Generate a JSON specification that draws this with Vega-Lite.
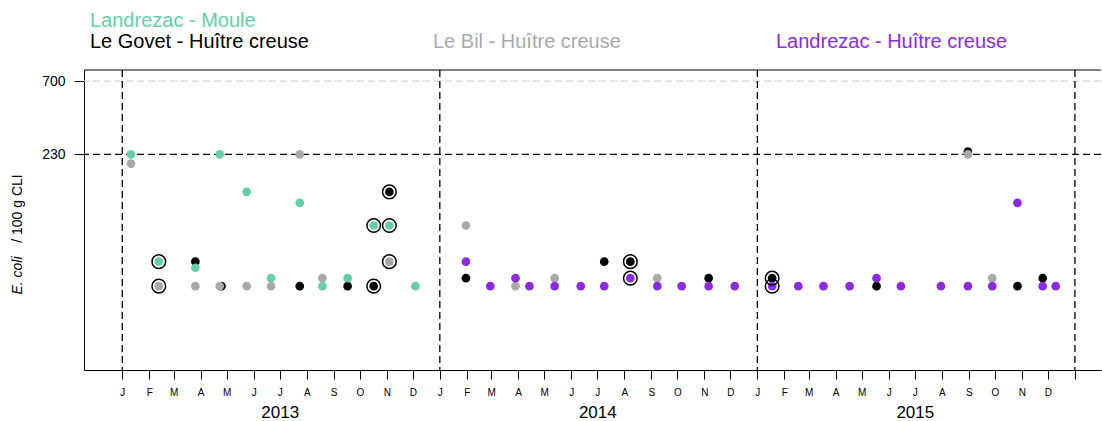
{
  "$schema": "https://vega.github.io/schema/vega-lite/v6.json",
  "autosize": {"type": "none"},
  "width": 1017,
  "height": 300,
  "padding": {"left": 84, "top": 70, "right": 1, "bottom": 51},
  "background": "white",
  "config": {
    "view": {"stroke": null},
    "font": "Liberation Sans",
    "axis": {"labelFont": "Liberation Sans", "titleFont": "Liberation Sans", "labelColor": "#000000", "titleColor": "#000000", "domainColor": "#000000", "tickColor": "#000000", "domainWidth": 1, "tickWidth": 1, "grid": false},
    "legend": {"labelFont": "Liberation Sans", "labelFontSize": 20, "labelLimit": 0, "padding": 0, "symbolSize": 0, "symbolOpacity": 0, "symbolStrokeWidth": 0, "labelOffset": 0, "orient": "none"}
  },
  "data": {
    "values": [
      {"date": "2013-01-11", "site": "Landrezac - Moule", "value": 230, "flag": 0},
      {"date": "2013-01-11", "site": "Le Bil - Huître creuse", "value": 200, "flag": 0},
      {"date": "2013-02-12", "site": "Landrezac - Moule", "value": 45, "flag": 1},
      {"date": "2013-02-12", "site": "Le Bil - Huître creuse", "value": 31, "flag": 1},
      {"date": "2013-03-26", "site": "Le Govet - Huître creuse", "value": 45, "flag": 0},
      {"date": "2013-03-26", "site": "Landrezac - Moule", "value": 41, "flag": 0},
      {"date": "2013-03-26", "site": "Le Bil - Huître creuse", "value": 31, "flag": 0},
      {"date": "2013-04-23", "site": "Landrezac - Moule", "value": 230, "flag": 0},
      {"date": "2013-04-25", "site": "Le Govet - Huître creuse", "value": 31, "flag": 0},
      {"date": "2013-04-23", "site": "Le Bil - Huître creuse", "value": 31, "flag": 0},
      {"date": "2013-05-24", "site": "Landrezac - Moule", "value": 130, "flag": 0},
      {"date": "2013-05-24", "site": "Le Bil - Huître creuse", "value": 31, "flag": 0},
      {"date": "2013-06-21", "site": "Landrezac - Moule", "value": 35, "flag": 0},
      {"date": "2013-06-21", "site": "Le Bil - Huître creuse", "value": 31, "flag": 0},
      {"date": "2013-07-24", "site": "Le Bil - Huître creuse", "value": 230, "flag": 0},
      {"date": "2013-07-24", "site": "Landrezac - Moule", "value": 110, "flag": 0},
      {"date": "2013-07-24", "site": "Le Govet - Huître creuse", "value": 31, "flag": 0},
      {"date": "2013-08-19", "site": "Le Bil - Huître creuse", "value": 35, "flag": 0},
      {"date": "2013-08-19", "site": "Landrezac - Moule", "value": 31, "flag": 0},
      {"date": "2013-09-17", "site": "Landrezac - Moule", "value": 35, "flag": 0},
      {"date": "2013-09-17", "site": "Le Govet - Huître creuse", "value": 31, "flag": 0},
      {"date": "2013-10-17", "site": "Landrezac - Moule", "value": 78, "flag": 1},
      {"date": "2013-10-17", "site": "Le Govet - Huître creuse", "value": 31, "flag": 1},
      {"date": "2013-11-04", "site": "Le Govet - Huître creuse", "value": 130, "flag": 1},
      {"date": "2013-11-04", "site": "Landrezac - Moule", "value": 78, "flag": 1},
      {"date": "2013-11-04", "site": "Le Bil - Huître creuse", "value": 45, "flag": 1},
      {"date": "2013-12-04", "site": "Landrezac - Moule", "value": 31, "flag": 0},
      {"date": "2014-01-31", "site": "Le Bil - Huître creuse", "value": 78, "flag": 0},
      {"date": "2014-01-31", "site": "Landrezac - Huître creuse", "value": 45, "flag": 0},
      {"date": "2014-01-31", "site": "Le Govet - Huître creuse", "value": 35, "flag": 0},
      {"date": "2014-02-28", "site": "Landrezac - Huître creuse", "value": 31, "flag": 0},
      {"date": "2014-03-29", "site": "Landrezac - Huître creuse", "value": 35, "flag": 0},
      {"date": "2014-03-29", "site": "Le Bil - Huître creuse", "value": 31, "flag": 0},
      {"date": "2014-04-14", "site": "Landrezac - Huître creuse", "value": 31, "flag": 0},
      {"date": "2014-05-13", "site": "Le Bil - Huître creuse", "value": 35, "flag": 0},
      {"date": "2014-05-13", "site": "Landrezac - Huître creuse", "value": 31, "flag": 0},
      {"date": "2014-06-12", "site": "Landrezac - Huître creuse", "value": 31, "flag": 0},
      {"date": "2014-07-09", "site": "Le Govet - Huître creuse", "value": 45, "flag": 0},
      {"date": "2014-07-09", "site": "Landrezac - Huître creuse", "value": 31, "flag": 0},
      {"date": "2014-08-08", "site": "Le Govet - Huître creuse", "value": 45, "flag": 1},
      {"date": "2014-08-08", "site": "Landrezac - Huître creuse", "value": 35, "flag": 1},
      {"date": "2014-09-08", "site": "Le Bil - Huître creuse", "value": 35, "flag": 0},
      {"date": "2014-09-08", "site": "Landrezac - Huître creuse", "value": 31, "flag": 0},
      {"date": "2014-10-06", "site": "Landrezac - Huître creuse", "value": 31, "flag": 0},
      {"date": "2014-11-06", "site": "Le Govet - Huître creuse", "value": 35, "flag": 0},
      {"date": "2014-11-06", "site": "Landrezac - Huître creuse", "value": 31, "flag": 0},
      {"date": "2014-12-06", "site": "Landrezac - Huître creuse", "value": 31, "flag": 0},
      {"date": "2015-01-18", "site": "Le Govet - Huître creuse", "value": 35, "flag": 1},
      {"date": "2015-01-18", "site": "Landrezac - Huître creuse", "value": 31, "flag": 1},
      {"date": "2015-02-17", "site": "Landrezac - Huître creuse", "value": 31, "flag": 0},
      {"date": "2015-03-18", "site": "Landrezac - Huître creuse", "value": 31, "flag": 0},
      {"date": "2015-04-17", "site": "Landrezac - Huître creuse", "value": 31, "flag": 0},
      {"date": "2015-05-18", "site": "Landrezac - Huître creuse", "value": 35, "flag": 0},
      {"date": "2015-05-18", "site": "Le Govet - Huître creuse", "value": 31, "flag": 0},
      {"date": "2015-06-15", "site": "Landrezac - Huître creuse", "value": 31, "flag": 0},
      {"date": "2015-07-31", "site": "Landrezac - Huître creuse", "value": 31, "flag": 0},
      {"date": "2015-08-31", "site": "Le Govet - Huître creuse", "value": 240, "flag": 0},
      {"date": "2015-08-31", "site": "Le Bil - Huître creuse", "value": 230, "flag": 0},
      {"date": "2015-08-31", "site": "Landrezac - Huître creuse", "value": 31, "flag": 0},
      {"date": "2015-09-28", "site": "Le Bil - Huître creuse", "value": 35, "flag": 0},
      {"date": "2015-09-28", "site": "Landrezac - Huître creuse", "value": 31, "flag": 0},
      {"date": "2015-10-27", "site": "Landrezac - Huître creuse", "value": 110, "flag": 0},
      {"date": "2015-10-27", "site": "Le Govet - Huître creuse", "value": 31, "flag": 0},
      {"date": "2015-11-25", "site": "Le Govet - Huître creuse", "value": 35, "flag": 0},
      {"date": "2015-11-25", "site": "Landrezac - Huître creuse", "value": 31, "flag": 0},
      {"date": "2015-12-10", "site": "Landrezac - Huître creuse", "value": 31, "flag": 0}
    ]
  },
  "layer": [
    {
      "data": {"values": [{}]},
      "mark": {"type": "rule", "color": "#d3d3d3", "strokeDash": [7, 4], "strokeWidth": 1.3},
      "encoding": {
        "y": {"datum": 700, "type": "quantitative", "scale": {"type": "log", "domain": [8.66, 830], "nice": false}, "axis": null}
      }
    },
    {
      "data": {"values": [{}]},
      "mark": {"type": "rule", "color": "#000000", "strokeDash": [7, 4], "strokeWidth": 1.3},
      "encoding": {
        "y": {
          "datum": 230, "type": "quantitative",
          "scale": {"type": "log", "domain": [8.66, 830], "nice": false},
          "axis": {"orient": "left", "values": [], "ticks": false, "labels": false, "domain": false, "title": "E. coli", "titleFontStyle": "italic", "titleFontSize": 14, "titleFontWeight": "normal", "titleX": -67, "titleY": 205, "titleAngle": -90, "titleAlign": "center", "titleBaseline": "middle"}
        }
      }
    },
    {
      "data": {"values": [{"date": "2013-01-01"}, {"date": "2014-01-01"}, {"date": "2015-01-01"}, {"date": "2016-01-01"}]},
      "mark": {"type": "rule", "color": "#000000", "strokeDash": [7, 4], "strokeWidth": 1.3},
      "encoding": {
        "x": {
          "field": "date", "type": "temporal",
          "scale": {"type": "utc", "domain": [{"year": 2012, "month": 11, "date": 18, "utc": true}, {"year": 2016, "month": 1, "date": 31, "utc": true}], "nice": false},
          "axis": {
            "orient": "bottom", "title": null, "ticks": false, "tickSize": 0, "domain": false,
            "values": [{"year": 2013, "month": 7, "date": 1, "utc": true}, {"year": 2014, "month": 7, "date": 1, "utc": true}, {"year": 2015, "month": 7, "date": 1, "utc": true}],
            "labelExpr": "utcFormat(datum.value, '%Y')", "labelFontSize": 17, "labelPadding": 34, "labelFlush": false, "labelOverlap": false
          }
        }
      }
    },
    {
      "data": {"values": [{}]},
      "mark": {"type": "rule", "color": "#000000", "strokeWidth": 1},
      "encoding": {
        "y": {"datum": 830, "type": "quantitative", "scale": {"type": "log", "domain": [8.66, 830], "nice": false}, "axis": null}
      }
    },
    {
      "transform": [{"filter": "datum.site === 'Le Govet - Huître creuse'"}],
      "mark": {"type": "circle", "size": 75, "opacity": 1},
      "encoding": {
        "x": {
          "field": "date", "type": "temporal",
          "scale": {"type": "utc", "domain": [{"year": 2012, "month": 11, "date": 18, "utc": true}, {"year": 2016, "month": 1, "date": 31, "utc": true}], "nice": false},
          "axis": {
            "orient": "bottom", "title": null, "tickSize": 9, "labelPadding": 8, "labelFontSize": 10, "labelFlush": false, "labelOverlap": false,
            "values": [
              {"year": 2013, "month": 1, "date": 1, "utc": true}, {"year": 2013, "month": 2, "date": 1, "utc": true}, {"year": 2013, "month": 3, "date": 1, "utc": true},
              {"year": 2013, "month": 4, "date": 1, "utc": true}, {"year": 2013, "month": 5, "date": 1, "utc": true}, {"year": 2013, "month": 6, "date": 1, "utc": true},
              {"year": 2013, "month": 7, "date": 1, "utc": true}, {"year": 2013, "month": 8, "date": 1, "utc": true}, {"year": 2013, "month": 9, "date": 1, "utc": true},
              {"year": 2013, "month": 10, "date": 1, "utc": true}, {"year": 2013, "month": 11, "date": 1, "utc": true}, {"year": 2013, "month": 12, "date": 1, "utc": true},
              {"year": 2014, "month": 1, "date": 1, "utc": true}, {"year": 2014, "month": 2, "date": 1, "utc": true}, {"year": 2014, "month": 3, "date": 1, "utc": true},
              {"year": 2014, "month": 4, "date": 1, "utc": true}, {"year": 2014, "month": 5, "date": 1, "utc": true}, {"year": 2014, "month": 6, "date": 1, "utc": true},
              {"year": 2014, "month": 7, "date": 1, "utc": true}, {"year": 2014, "month": 8, "date": 1, "utc": true}, {"year": 2014, "month": 9, "date": 1, "utc": true},
              {"year": 2014, "month": 10, "date": 1, "utc": true}, {"year": 2014, "month": 11, "date": 1, "utc": true}, {"year": 2014, "month": 12, "date": 1, "utc": true},
              {"year": 2015, "month": 1, "date": 1, "utc": true}, {"year": 2015, "month": 2, "date": 1, "utc": true}, {"year": 2015, "month": 3, "date": 1, "utc": true},
              {"year": 2015, "month": 4, "date": 1, "utc": true}, {"year": 2015, "month": 5, "date": 1, "utc": true}, {"year": 2015, "month": 6, "date": 1, "utc": true},
              {"year": 2015, "month": 7, "date": 1, "utc": true}, {"year": 2015, "month": 8, "date": 1, "utc": true}, {"year": 2015, "month": 9, "date": 1, "utc": true},
              {"year": 2015, "month": 10, "date": 1, "utc": true}, {"year": 2015, "month": 11, "date": 1, "utc": true}, {"year": 2015, "month": 12, "date": 1, "utc": true},
              {"year": 2016, "month": 1, "date": 1, "utc": true}
            ],
            "labelExpr": "utcyear(datum.value) > 2015 ? '' : slice(utcFormat(datum.value, '%b'), 0, 1)"
          }
        },
        "y": {
          "field": "value", "type": "quantitative",
          "scale": {"type": "log", "domain": [8.66, 830], "nice": false},
          "axis": {"orient": "left", "values": [230, 700], "format": "d", "tickSize": 10, "labelPadding": 9, "labelFontSize": 14, "title": "/ 100 g CLI", "titleFontSize": 14, "titleFontWeight": "normal", "titleX": -67, "titleY": 138, "titleAngle": -90, "titleAlign": "center", "titleBaseline": "middle"}
        },
        "color": {"field": "site", "type": "nominal", "scale": {"range": ["#000000"]}, "legend": {"title": null, "legendX": -14, "legendY": -38, "labelColor": "#000000"}}
      }
    },
    {
      "transform": [{"filter": "datum.site === 'Landrezac - Moule'"}],
      "mark": {"type": "circle", "size": 75, "opacity": 1},
      "encoding": {
        "x": {"field": "date", "type": "temporal", "scale": {"type": "utc", "domain": [{"year": 2012, "month": 11, "date": 18, "utc": true}, {"year": 2016, "month": 1, "date": 31, "utc": true}], "nice": false}, "axis": null},
        "y": {"field": "value", "type": "quantitative", "scale": {"type": "log", "domain": [8.66, 830], "nice": false}, "axis": null},
        "color": {"field": "site", "type": "nominal", "scale": {"range": ["#66cdaa"]}, "legend": {"title": null, "legendX": -14, "legendY": -59, "labelColor": "#66cdaa"}}
      }
    },
    {
      "transform": [{"filter": "datum.site === 'Le Bil - Huître creuse'"}],
      "mark": {"type": "circle", "size": 75, "opacity": 1},
      "encoding": {
        "x": {"field": "date", "type": "temporal", "scale": {"type": "utc", "domain": [{"year": 2012, "month": 11, "date": 18, "utc": true}, {"year": 2016, "month": 1, "date": 31, "utc": true}], "nice": false}, "axis": null},
        "y": {"field": "value", "type": "quantitative", "scale": {"type": "log", "domain": [8.66, 830], "nice": false}, "axis": null},
        "color": {"field": "site", "type": "nominal", "scale": {"range": ["#a9a9a9"]}, "legend": {"title": null, "legendX": 329, "legendY": -38, "labelColor": "#a9a9a9"}}
      }
    },
    {
      "transform": [{"filter": "datum.site === 'Landrezac - Huître creuse'"}],
      "mark": {"type": "circle", "size": 75, "opacity": 1},
      "encoding": {
        "x": {"field": "date", "type": "temporal", "scale": {"type": "utc", "domain": [{"year": 2012, "month": 11, "date": 18, "utc": true}, {"year": 2016, "month": 1, "date": 31, "utc": true}], "nice": false}, "axis": null},
        "y": {"field": "value", "type": "quantitative", "scale": {"type": "log", "domain": [8.66, 830], "nice": false}, "axis": null},
        "color": {"field": "site", "type": "nominal", "scale": {"range": ["#8a2be2"]}, "legend": {"title": null, "legendX": 672, "legendY": -38, "labelColor": "#8a2be2"}}
      }
    },
    {
      "transform": [{"filter": "datum.flag === 1"}],
      "mark": {"type": "point", "shape": "circle", "filled": false, "color": "#000000", "strokeWidth": 1.5, "size": 185, "opacity": 1},
      "encoding": {
        "x": {"field": "date", "type": "temporal", "scale": {"type": "utc", "domain": [{"year": 2012, "month": 11, "date": 18, "utc": true}, {"year": 2016, "month": 1, "date": 31, "utc": true}], "nice": false}, "axis": null},
        "y": {"field": "value", "type": "quantitative", "scale": {"type": "log", "domain": [8.66, 830], "nice": false}, "axis": null}
      }
    }
  ],
  "resolve": {"scale": {"color": "independent"}, "axis": {"x": "independent", "y": "independent"}}
}
